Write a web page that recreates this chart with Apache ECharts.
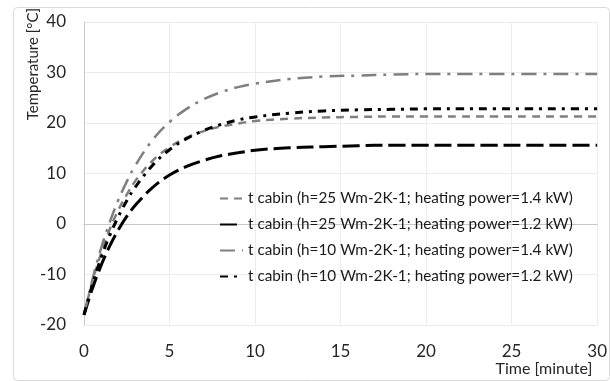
<!DOCTYPE html>
<html>
<head>
<meta charset="utf-8">
<script src="https://cdn.jsdelivr.net/npm/echarts@6/dist/echarts.min.js"></script>
<style>html,body{margin:0;padding:0;background:#fff}#c{width:610px;height:381px}</style>
</head>
<body>
<div id="c"></div>
<script>
const timeMin = [0,0.5,1,1.5,2,2.5,3,4,5,6,7,8,9,10,12,14,16,18,20,22,24,26,28,30];
const h25_p14 = [-18,-11.3,-5.8,-1.1,2.7,5.8,8.5,12.5,15.2,17.1,18.4,19.3,19.9,20.4,20.85,21.1,21.2,21.3,21.3,21.3,21.3,21.3,21.3,21.3];
const h25_p12 = [-18,-12.7,-8.2,-4.4,-1.2,1.5,3.7,7.2,9.7,11.4,12.6,13.5,14.1,14.6,15.1,15.3,15.5,15.6,15.6,15.6,15.6,15.6,15.6,15.6];
const h10_p14 = [-18,-10.9,-4.8,0.3,4.7,8.4,11.6,16.6,20.2,22.8,24.7,26.1,27.1,27.8,28.7,29.2,29.4,29.6,29.7,29.7,29.7,29.7,29.7,29.7];
const h10_p12 = [-18,-11.9,-6.7,-2.3,1.4,4.6,7.3,11.6,14.7,16.9,18.5,19.7,20.6,21.2,21.95,22.4,22.6,22.7,22.8,22.8,22.8,22.8,22.8,22.8];
const names = [
  't cabin (h=25 Wm-2K-1; heating power=1.4 kW)',
  't cabin (h=25 Wm-2K-1; heating power=1.2 kW)',
  't cabin (h=10 Wm-2K-1; heating power=1.4 kW)',
  't cabin (h=10 Wm-2K-1; heating power=1.2 kW)'
];
const xTicks = [0,5,10,15,20,25,30];
const yTicks = [-20,-10,0,10,20,30,40];

const pairs = a => timeMin.map((t,i)=>[t,a[i]]);
const FONT = 'Lato';
const styles = [
  {color:'#7f7f7f', width:2.5, type:[8,6]},
  {color:'#000000', width:3, type:[17,6]},
  {color:'#7f7f7f', width:2.5, type:[15,7,3,7]},
  {color:'#000000', width:3, type:[8,6,3,6]}
];
const dataSets = [h25_p14,h25_p12,h10_p14,h10_p12];

const chart = echarts.init(document.getElementById('c'), null, {renderer:'canvas'});
chart.setOption({
  animation:false,
  backgroundColor:'#fff',
  grid:{left:84,right:9,top:22,bottom:56,containLabel:false},
  xAxis:{type:'value',min:0,max:30,interval:5,
    axisLine:{show:true,lineStyle:{color:'#c8c8c8',width:1}},
    axisTick:{show:false},
    splitLine:{show:true,lineStyle:{color:'#ececec',width:1}},
    axisLabel:{fontFamily:FONT,fontSize:17,color:'#262626',margin:18,
      formatter:v=>xTicks.includes(v)?String(v):''}
  },
  yAxis:{type:'value',min:-20,max:40,interval:10,
    axisLine:{show:true,lineStyle:{color:'#c8c8c8',width:1}},
    axisTick:{show:false},
    splitLine:{show:true,lineStyle:{color:'#ececec',width:1}},
    axisLabel:{fontFamily:FONT,fontSize:17,color:'#262626',margin:18,
      formatter:v=>yTicks.includes(v)?String(v):''}
  },
  legend:{show:true,orient:'vertical',left:214,top:186,itemWidth:23,itemHeight:14,itemGap:11,
    itemStyle:{color:'rgba(0,0,0,0)',borderWidth:0,opacity:0},
    textStyle:{fontFamily:FONT,fontSize:15.3,color:'#1a1a1a'},
    data:names},
  graphic:[
    {type:'rect',left:11,top:5,shape:{width:596,height:373,r:4},style:{fill:'none',stroke:'#d9d9d9',lineWidth:1},silent:true,z:-10},
    {type:'text',x:33,y:64,rotation:Math.PI/2,style:{text:'Temperature [°C]',font:'15px '+FONT,fill:'#262626',align:'center',verticalAlign:'middle'}},
    {type:'text',x:544,y:369,style:{text:'Time [minute]',font:'16px '+FONT,fill:'#262626',align:'center',verticalAlign:'middle'}}
  ],
  series:dataSets.map((d,i)=>({
    name:names[i],type:'line',smooth:0.4,showSymbol:false,symbol:'none',
    data:pairs(d),
    lineStyle:{color:styles[i].color,width:styles[i].width,type:styles[i].type,cap:'butt'},
    itemStyle:{color:styles[i].color}
  }))
});
</script>
</body>
</html>
